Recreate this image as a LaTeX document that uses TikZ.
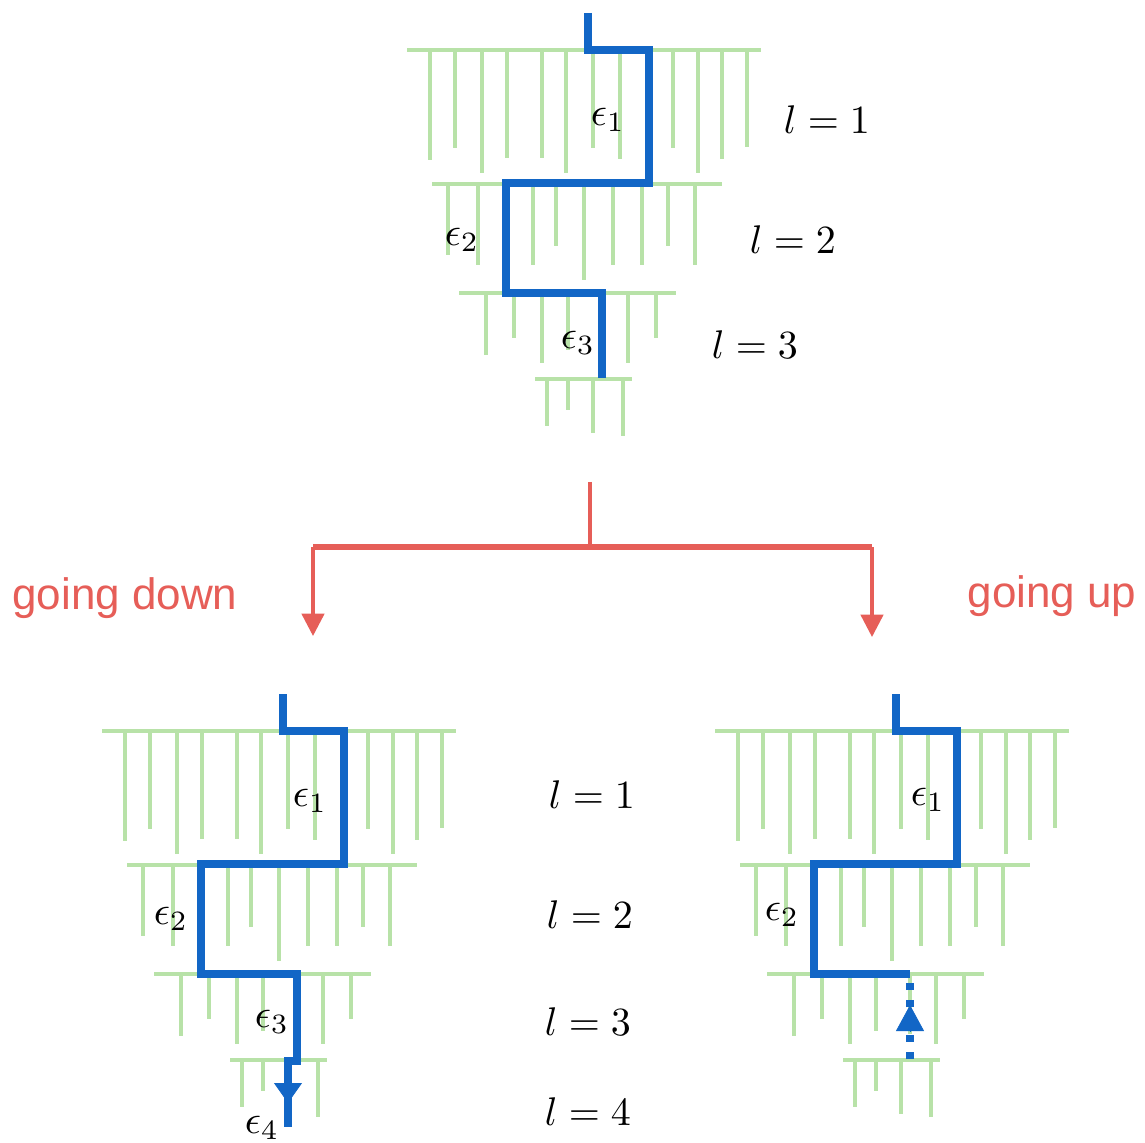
\documentclass[tikz,border=0pt]{standalone}
\usepackage{fontspec}
\newfontfamily\sidefont{Liberation Sans}
\usetikzlibrary{arrows.meta}
\definecolor{treegreen}{RGB}{184,226,168}
\definecolor{pathblue}{RGB}{18,102,198}
\definecolor{splitred}{RGB}{230,94,88}
\tikzset{
  tooth/.style={treegreen, line width=1.15pt},
  walk/.style={pathblue, line width=1.95pt, line join=miter},
  walkdash/.style={pathblue, line width=2pt, dash pattern=on 1.8pt off 2.5pt},
  walktip/.style={pathblue, line width=0.2pt, -{Triangle[length=#1,width=7pt]}},
  splitline/.style={splitred, line width=0.85pt},
  splitbar/.style={splitred, line width=1.35pt},
  splittip/.style={splitred, line width=0.85pt, -{Triangle[length=5.6pt,width=5.6pt]}},
  mathlab/.style={inner sep=0pt, font=\fontsize{9.8}{11}\selectfont},
  sidetext/.style={inner sep=0pt, text=splitred, font=\sidefont\fontsize{11}{13}\selectfont},
}
% one level of teeth: y, x-left, x-right, list of x/length
\newcommand{\greenlevel}[4]{%
  \draw[tooth] (#2,#1) -- (#3,#1);
  \foreach \tx/\tl in {#4} \draw[tooth] (\tx,#1) -- (\tx,#1+\tl);
}
\newcommand{\greentree}{%
  \greenlevel{50}{407}{761}{430/110,455/98,482/123,507/108,542/108,566/123,593/98,620/109,649/110,673/98,698/123,722/109,747/97}
  \greenlevel{184}{432}{722}{448/71,478/81,506/81,533/81,556/62,584/96,613/81,642/81,668/62,695/81}
  \greenlevel{293}{459}{676}{486/62,514/45,542/70,568/57,602/60,628/70,656/45}
  \greenlevel{379}{535}{632}{547/47,568/31,593/54,623/57}
}
\begin{document}
\begin{tikzpicture}[x=0.25pt,y=-0.25pt]
\useasboundingbox (0,0) rectangle (1145,1143);

% ---------- top tree ----------
\greentree
\coordinate (t0) at (588,13);  \coordinate (t1) at (588,50);
\coordinate (t2) at (649,50);  \coordinate (t3) at (649,183);
\coordinate (t4) at (506,183); \coordinate (t5) at (506,293);
\coordinate (t6) at (602,293); \coordinate (t7) at (602,378);
\draw[walk] (t0) -- (t1) -- (t2) -- (t3) -- (t4) -- (t5) -- (t6) -- (t7);
\node[mathlab] (te1) at (608,120) {$\epsilon_1$};
\node[mathlab] (te2) at (462,240) {$\epsilon_2$};
\node[mathlab] (te3) at (578,343) {$\epsilon_3$};
\node[mathlab] (tl1) at (827,120) {$l=1$};
\node[mathlab] (tl2) at (793,240) {$l=2$};
\node[mathlab] (tl3) at (755,345) {$l=3$};

% ---------- split connector ----------
\coordinate (rtop) at (590,482);
\coordinate (rjoin) at (590,547);
\coordinate (rleft) at (313,547);
\coordinate (rright) at (872,547);
\coordinate (rltip) at (313,636);
\coordinate (rrtip) at (872,637);
\draw[splitline] (rtop) -- (rjoin);
\draw[splitbar] (rleft) -- (rright);
\draw[splittip] (rleft) -- (rltip);
\draw[splittip] (rright) -- (rrtip);
\node[sidetext] (down) at (125,598) {going down};
\node[sidetext] (up) at (1052,596) {going up};

% ---------- bottom-left tree ----------
\begin{scope}[shift={(-305,681)}]
  \greentree
\end{scope}
\coordinate (b0) at (283,694);  \coordinate (b1) at (283,731);
\coordinate (b2) at (344,731);  \coordinate (b3) at (344,864);
\coordinate (b4) at (201,864);  \coordinate (b5) at (201,974);
\coordinate (b6) at (297,974);  \coordinate (b7) at (297,1061);
\coordinate (b8) at (288,1061); \coordinate (b9) at (288,1127);
\coordinate (btip) at (288,1103);
\draw[walk] (b0) -- (b1) -- (b2) -- (b3) -- (b4) -- (b5) -- (b6) -- (b7) -- (b8) -- (b9);
\draw[walktip=5pt] (b8) -- (btip);
\node[mathlab] (be1) at (310,801) {$\epsilon_1$};
\node[mathlab] (be2) at (171,919) {$\epsilon_2$};
\node[mathlab] (be3) at (272,1022) {$\epsilon_3$};
\node[mathlab] (be4) at (262,1128) {$\epsilon_4$};

% ---------- middle level labels ----------
\node[mathlab] (ml1) at (592,795) {$l=1$};
\node[mathlab] (ml2) at (590,915) {$l=2$};
\node[mathlab] (ml3) at (588,1022) {$l=3$};
\node[mathlab] (ml4) at (588,1112) {$l=4$};

% ---------- bottom-right tree ----------
\begin{scope}[shift={(308,681)}]
  \greentree
\end{scope}
\coordinate (r0) at (896,694);  \coordinate (r1) at (896,731);
\coordinate (r2) at (957,731);  \coordinate (r3) at (957,864);
\coordinate (r4) at (814,864);  \coordinate (r5) at (814,974);
\coordinate (r6) at (910,974);
\coordinate (rbot) at (910,1059);
\coordinate (rbase) at (910,1031);
\coordinate (rtipup) at (910,1005);
\draw[walk] (r0) -- (r1) -- (r2) -- (r3) -- (r4) -- (r5) -- (r6);
\draw[walkdash] (rbot) -- (r6);
\draw[walktip=6.5pt] (rbase) -- (rtipup);
\node[mathlab] (re1) at (928,800) {$\epsilon_1$};
\node[mathlab] (re2) at (782,915) {$\epsilon_2$};
\end{tikzpicture}
\end{document}
